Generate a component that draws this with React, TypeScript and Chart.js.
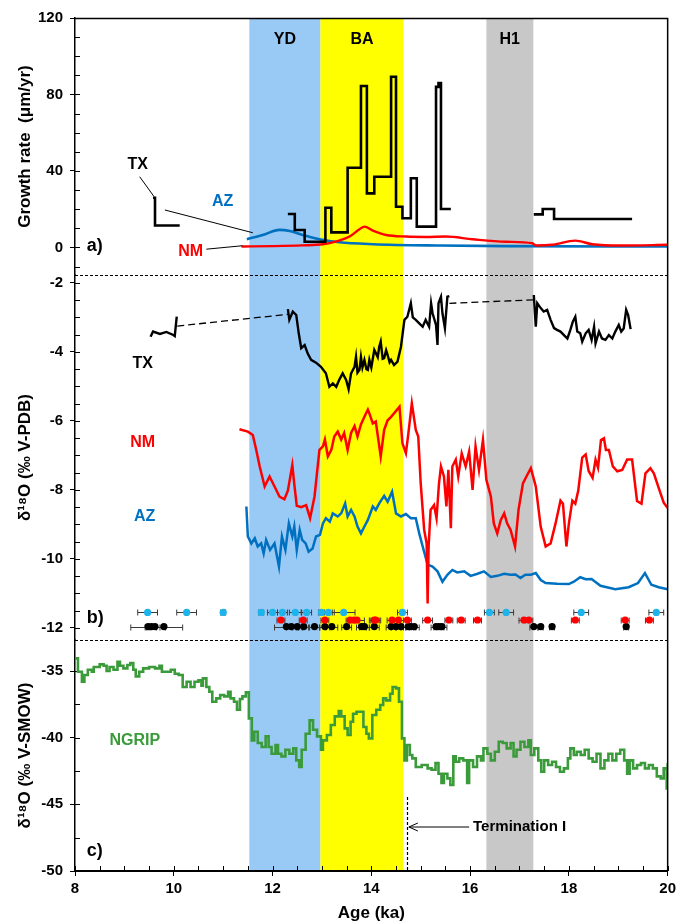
import React, { useEffect, useRef } from "react";
import { Chart, registerables } from "chart.js";
Chart.register(...registerables);

const FONT = "'Liberation Sans', Arial, Helvetica, sans-serif";

// ---------- climate intervals ----------
const bandNames = ["YD", "BA", "H1"];
const bandStart = [11.53, 12.97, 16.33];
const bandEnd = [12.97, 14.65, 17.28];
const bandColors = ["#99c9f5", "#ffff00", "#c8c8c8"];

// ---------- panel a: growth rate (um/yr) ----------
const txGrowthAge = [9.58, 9.62, 10.12, 11.0, 12.31, 12.45, 12.65, 13.07, 13.19, 13.52, 13.79, 13.91, 14.06, 14.40, 14.50, 14.63, 14.80, 14.92, 15.31, 15.36, 15.41, 15.61, 16.5, 17.29, 17.47, 17.70, 19.28];
const txGrowthRate = [26, 11.5, 11.5, null, 17.5, 9.1, 3.0, 20.8, 7.9, 41.7, 84.4, 28.3, 37.0, 89.3, 21.3, 15.3, 36.2, 10.9, 84.0, 86.0, 20.1, 20.1, null, 17.3, 20.1, 14.9, 14.9];

const azGrowthAge = [11.48, 11.8, 12.14, 12.35, 12.61, 12.95, 13.35, 14.03, 15.37, 16.72, 20.0];
const azGrowthRate = [4.3, 6.5, 9.2, 8.6, 6.5, 4.3, 2.7, 1.7, 1.0, 0.7, 0.5];

const nmGrowthAge = [11.37, 12.0, 12.6, 13.02, 13.35, 13.56, 13.76, 13.86, 14.03, 14.30, 14.70, 15.10, 15.51, 16.05, 16.72, 17.26, 17.33, 17.66, 18.13, 18.47, 19.07, 20.0];
const nmGrowthRate = [0.5, 0.7, 1.1, 1.7, 3.6, 5.7, 9.5, 10.9, 8.8, 6.5, 5.7, 5.5, 5.7, 4.3, 3.0, 2.2, 1.0, 1.4, 3.6, 1.7, 1.0, 1.4];

// ---------- panel b: speleothem d18O (permil V-PDB) ----------
const txO18Age = [9.53, 9.58, 9.72, 9.85, 9.99, 10.02, 10.06, 11.0,
  12.31, 12.34, 12.41, 12.48, 12.53, 12.58, 12.65, 12.71, 12.78, 12.88, 12.98, 13.08, 13.15, 13.22, 13.29, 13.35, 13.42, 13.49, 13.54, 13.59, 13.66, 13.69, 13.72, 13.76, 13.79, 13.82, 13.86, 13.90, 13.93, 13.96, 14.00, 14.06, 14.13, 14.16, 14.19, 14.23, 14.26, 14.30, 14.33, 14.37, 14.40, 14.46, 14.53, 14.60, 14.67, 14.73, 14.80, 14.84, 14.90, 14.97, 15.04, 15.10, 15.17, 15.21, 15.24, 15.31, 15.34, 15.36, 15.41, 15.44, 15.49, 15.54, 15.58, 16.5,
  17.29, 17.33, 17.36, 17.43, 17.49, 17.56, 17.63, 17.70, 17.76, 17.83, 17.90, 17.97, 18.03, 18.08, 18.13, 18.17, 18.23, 18.27, 18.34, 18.40, 18.46, 18.51, 18.54, 18.61, 18.67, 18.74, 18.81, 18.88, 18.94, 19.01, 19.06, 19.11, 19.16, 19.20, 19.25];
const txO18 = [-3.56, -3.41, -3.48, -3.42, -3.51, -3.54, -2.98, null,
  -2.76, -3.07, -2.83, -2.93, -3.46, -3.89, -3.80, -4.04, -4.23, -4.31, -4.43, -4.62, -5.01, -4.91, -5.01, -4.81, -4.62, -4.81, -5.08, -4.62, -4.43, -4.14, -4.60, -4.52, -4.15, -4.45, -4.23, -4.50, -4.52, -4.23, -4.45, -3.94, -4.15, -3.85, -3.70, -4.20, -4.18, -3.95, -4.09, -4.30, -4.23, -4.38, -4.28, -3.85, -3.07, -2.98, -2.59, -3.00, -3.07, -3.17, -3.27, -3.07, -3.27, -2.59, -2.88, -3.22, -3.80, -2.59, -2.40, -2.88, -3.31, -2.40, -2.38, null,
  -2.35, -3.27, -2.59, -2.73, -2.83, -2.78, -3.07, -3.31, -3.36, -3.41, -3.51, -3.61, -3.36, -3.12, -2.98, -3.41, -3.46, -3.70, -3.46, -3.36, -3.65, -3.27, -3.75, -3.41, -3.61, -3.65, -3.51, -3.61, -3.41, -3.22, -3.41, -3.32, -2.78, -2.93, -3.34];
const txLinkAge = [10.07, 12.31, 14.0, 15.58, 17.29];
const txLinkO18 = [-3.25, -2.91, null, -2.59, -2.49];

const nmO18Age = [11.33, 11.50, 11.60, 11.67, 11.74, 11.84, 11.94, 12.04, 12.14, 12.24, 12.31, 12.40, 12.44, 12.49, 12.58, 12.68, 12.76, 12.85, 12.92, 12.95, 13.02, 13.06, 13.12, 13.19, 13.25, 13.32, 13.39, 13.45, 13.52, 13.59, 13.66, 13.72, 13.79, 13.86, 13.93, 13.96, 14.03, 14.09, 14.19, 14.26, 14.33, 14.40, 14.46, 14.57, 14.63, 14.70, 14.75, 14.82, 14.90, 14.95, 15.00, 15.07, 15.12, 15.14, 15.16, 15.20, 15.27, 15.32, 15.37, 15.41, 15.47, 15.52, 15.56, 15.61, 15.64, 15.71, 15.76, 15.83, 15.91, 15.98, 16.05, 16.11, 16.18, 16.26, 16.33, 16.42, 16.48, 16.55, 16.62, 16.69, 16.75, 16.82, 16.91, 16.98, 17.07, 17.14, 17.23, 17.33, 17.43, 17.53, 17.63, 17.73, 17.83, 17.88, 17.95, 18.00, 18.07, 18.13, 18.19, 18.27, 18.34, 18.40, 18.48, 18.54, 18.59, 18.65, 18.71, 18.75, 18.81, 18.89, 18.98, 19.08, 19.18, 19.28, 19.38, 19.47, 19.55, 19.65, 19.72, 19.82, 19.92, 20.0];
const nmO18 = [-6.24, -6.31, -6.41, -6.84, -7.32, -7.90, -7.61, -7.90, -8.19, -8.27, -8.02, -7.28, -7.83, -8.46, -8.50, -8.44, -8.82, -8.19, -7.23, -6.84, -6.74, -6.54, -7.03, -6.84, -6.45, -6.31, -6.54, -6.35, -6.84, -6.35, -6.15, -6.45, -6.10, -5.88, -5.67, -5.78, -6.07, -6.02, -7.03, -6.26, -5.98, -5.88, -5.78, -5.59, -6.65, -6.94, -6.36, -5.49, -6.26, -6.45, -7.81, -9.16, -9.55, -11.29, -9.64, -8.58, -8.44, -8.82, -7.81, -7.32, -7.61, -8.48, -7.42, -9.11, -7.32, -7.12, -7.61, -6.94, -7.32, -6.89, -8.00, -6.74, -7.42, -6.55, -7.71, -8.19, -8.97, -9.26, -8.88, -8.68, -8.97, -9.16, -9.64, -8.58, -7.81, -7.61, -7.37, -7.90, -9.07, -9.64, -9.55, -8.97, -8.31, -8.40, -9.64, -8.97, -8.31, -8.40, -8.02, -7.06, -6.97, -7.45, -7.65, -7.12, -7.35, -6.55, -6.50, -6.84, -6.84, -7.32, -7.46, -7.42, -7.12, -7.12, -8.32, -8.40, -7.52, -7.37, -7.52, -7.95, -8.37, -8.52];

const azO18Age = [11.47, 11.50, 11.57, 11.64, 11.70, 11.77, 11.82, 11.87, 11.95, 12.04, 12.13, 12.19, 12.26, 12.33, 12.40, 12.44, 12.49, 12.55, 12.60, 12.67, 12.73, 12.81, 12.88, 12.96, 13.02, 13.08, 13.16, 13.22, 13.32, 13.39, 13.47, 13.52, 13.59, 13.66, 13.72, 13.79, 13.86, 13.93, 14.03, 14.09, 14.16, 14.26, 14.33, 14.42, 14.50, 14.60, 14.70, 14.80, 14.90, 14.97, 15.04, 15.14, 15.24, 15.34, 15.44, 15.54, 15.64, 15.74, 15.88, 16.01, 16.15, 16.28, 16.42, 16.55, 16.69, 16.82, 16.92, 17.02, 17.12, 17.23, 17.33, 17.43, 17.53, 17.76, 18.00, 18.10, 18.23, 18.34, 18.46, 18.64, 18.94, 19.21, 19.40, 19.54, 19.67, 19.82, 20.0];
const azO18 = [-8.48, -9.35, -9.55, -9.40, -9.64, -9.55, -9.84, -9.45, -9.74, -9.55, -10.22, -9.35, -9.74, -8.97, -9.35, -9.06, -9.74, -9.16, -9.45, -9.55, -9.79, -9.70, -9.35, -9.30, -8.97, -8.82, -8.92, -8.68, -8.77, -8.68, -8.39, -8.77, -8.58, -8.77, -9.06, -9.26, -9.06, -8.87, -8.48, -8.58, -8.39, -8.17, -8.34, -8.05, -8.68, -8.77, -8.70, -8.82, -8.82, -9.26, -9.64, -10.17, -10.22, -10.36, -10.66, -10.46, -10.32, -10.39, -10.36, -10.49, -10.43, -10.36, -10.52, -10.49, -10.43, -10.46, -10.45, -10.55, -10.46, -10.46, -10.41, -10.61, -10.70, -10.72, -10.73, -10.66, -10.53, -10.59, -10.58, -10.78, -10.88, -10.82, -10.70, -10.41, -10.75, -10.82, -10.88];

// ---------- panel b: U-Th dates (ka, 2 sigma) ----------
const azDateAge = [9.47, 10.26, 11.0, 11.77, 12.0, 12.2, 12.46, 12.69, 12.99, 13.13, 13.44, 14.63, 16.39, 16.73, 18.25, 19.77];
const azDateErr = [0.2, 0.2, 0.05, 0.05, 0.1, 0.1, 0.12, 0.1, 0.06, 0.12, 0.23, 0.1, 0.1, 0.15, 0.15, 0.15];
const nmDateAge = [12.17, 12.62, 13.06, 13.57, 13.65, 13.71, 14.06, 14.09, 14.42, 14.55, 14.73, 15.14, 15.57, 15.82, 16.15, 17.09, 17.19, 18.13, 19.14, 19.63];
const nmDateErr = [0.08, 0.08, 0.08, 0.08, 0.08, 0.15, 0.1, 0.1, 0.1, 0.15, 0.08, 0.1, 0.08, 0.08, 0.08, 0.1, 0.08, 0.08, 0.08, 0.08];
const txDateAge = [9.48, 9.55, 9.62, 9.8, 12.28, 12.38, 12.5, 12.63, 12.85, 13.06, 13.2, 13.5, 13.8, 13.86, 14.06, 14.4, 14.5, 14.6, 14.75, 14.8, 14.87, 15.31, 15.37, 15.43, 17.29, 17.43, 17.66, 19.16];
const txDateErr = [0.35, 0.1, 0.1, 0.38, 0.24, 0.1, 0.1, 0.1, 0.1, 0.1, 0.12, 0.1, 0.1, 0.1, 0.1, 0.1, 0.1, 0.1, 0.1, 0.1, 0.1, 0.1, 0.1, 0.1, 0.08, 0.05, 0.05, 0.05];
const dateRowLevel = [-11.55, -11.77, -11.96]; // AZ, NM, TX rows

// ---------- panel c: NGRIP d18O (permil V-SMOW) ----------
const ngripAge = [8.00, 8.06, 8.14, 8.19, 8.26, 8.34, 8.38, 8.50, 8.58, 8.64, 8.70, 8.78, 8.86, 8.91, 8.98, 9.06, 9.12, 9.18, 9.23, 9.30, 9.38, 9.50, 9.62, 9.71, 9.76, 9.86, 9.94, 10.02, 10.10, 10.18, 10.26, 10.34, 10.42, 10.50, 10.56, 10.59, 10.66, 10.72, 10.78, 10.86, 10.94, 11.02, 11.10, 11.15, 11.22, 11.28, 11.34, 11.39, 11.46, 11.52, 11.58, 11.63, 11.70, 11.78, 11.86, 11.92, 11.98, 12.06, 12.11, 12.18, 12.26, 12.34, 12.42, 12.48, 12.54, 12.59, 12.67, 12.75, 12.82, 12.90, 12.98, 13.02, 13.10, 13.18, 13.26, 13.34, 13.39, 13.46, 13.52, 13.58, 13.63, 13.70, 13.78, 13.84, 13.90, 13.95, 14.02, 14.10, 14.18, 14.24, 14.30, 14.38, 14.43, 14.50, 14.56, 14.62, 14.67, 14.72, 14.78, 14.83, 14.90, 15.02, 15.14, 15.22, 15.30, 15.36, 15.42, 15.47, 15.54, 15.60, 15.66, 15.71, 15.78, 15.86, 15.94, 15.98, 16.06, 16.14, 16.22, 16.27, 16.35, 16.42, 16.50, 16.58, 16.66, 16.74, 16.82, 16.88, 16.94, 17.02, 17.10, 17.18, 17.23, 17.30, 17.38, 17.44, 17.50, 17.58, 17.66, 17.74, 17.82, 17.90, 17.98, 18.03, 18.10, 18.16, 18.24, 18.32, 18.40, 18.48, 18.56, 18.64, 18.72, 18.80, 18.88, 18.96, 19.04, 19.12, 19.18, 19.23, 19.30, 19.38, 19.46, 19.54, 19.62, 19.70, 19.78, 19.86, 19.92, 19.98, 20.00];
const ngripO18 = [-34.05, -35.05, -35.8, -35.3, -34.9, -35.05, -34.7, -34.5, -34.6, -35.0, -34.7, -34.9, -34.3, -34.6, -34.8, -34.55, -34.4, -34.9, -35.4, -35.05, -34.8, -34.7, -34.8, -34.6, -35.05, -35.05, -34.9, -35.2, -35.3, -36.2, -35.8, -36.2, -35.8, -35.7, -36.1, -35.55, -36.2, -36.55, -37.3, -37.05, -36.8, -36.9, -36.55, -37.05, -37.3, -37.9, -37.1, -36.9, -36.6, -38.55, -40.2, -39.55, -40.4, -40.7, -39.9, -40.7, -41.2, -40.55, -41.2, -41.4, -40.9, -41.2, -40.8, -41.7, -42.2, -40.9, -39.7, -38.7, -39.4, -39.9, -40.9, -40.2, -39.8, -39.05, -38.4, -38.0, -38.4, -39.3, -39.8, -38.8, -38.2, -38.05, -38.05, -39.2, -39.7, -40.05, -38.3, -37.9, -37.55, -37.05, -37.2, -36.7, -36.2, -36.3, -37.3, -40.05, -41.7, -40.55, -41.3, -41.55, -42.2, -42.05, -42.3, -42.4, -41.9, -42.7, -43.4, -42.7, -43.05, -43.55, -41.4, -41.8, -41.55, -41.7, -43.4, -41.7, -42.2, -41.4, -41.7, -40.8, -41.2, -41.7, -41.05, -40.3, -40.4, -40.8, -40.4, -41.4, -40.9, -40.3, -40.7, -40.2, -41.3, -40.8, -41.7, -42.55, -41.7, -42.05, -41.8, -42.2, -42.55, -42.3, -41.55, -40.8, -41.3, -41.05, -41.3, -40.9, -41.55, -41.8, -41.2, -42.3, -41.7, -41.2, -41.7, -41.2, -40.9, -41.7, -42.7, -41.7, -42.3, -42.05, -41.9, -42.3, -42.05, -42.3, -42.9, -43.05, -42.3, -43.8, -41.9];

// ---------- axis ranges / ticks ----------
const xTickLabels = [8, 10, 12, 14, 16, 18, 20];
const growthTickLabels = [0, 40, 80, 120];
const pdbTickLabels = [-2, -4, -6, -8, -10, -12];
const smowTickLabels = [-35, -40, -45, -50];

const BLACK = "#000000";
const BLUE = "#0070c0";
const RED = "#ff0000";
const GREEN = "#3b9b3b";
const CYAN = "#1db4ec";

type Note = { axis: string; x: number; y: number; text: string; color: string; size: number; align?: CanvasTextAlign };
const notes: Note[] = [
  { axis: "ya", x: 12.25, y: 108.5, text: "YD", color: BLACK, size: 16 },
  { axis: "ya", x: 13.81, y: 108.5, text: "BA", color: BLACK, size: 16 },
  { axis: "ya", x: 16.80, y: 108.5, text: "H1", color: BLACK, size: 16 },
  { axis: "ya", x: 9.27, y: 43.1, text: "TX", color: BLACK, size: 16 },
  { axis: "ya", x: 10.99, y: 23.9, text: "AZ", color: BLUE, size: 16 },
  { axis: "ya", x: 10.34, y: -2.2, text: "NM", color: RED, size: 16 },
  { axis: "ya", x: 8.24, y: 0.8, text: "a)", color: BLACK, size: 18, align: "left" },
  { axis: "yb", x: 9.37, y: -4.35, text: "TX", color: BLACK, size: 16 },
  { axis: "yb", x: 9.37, y: -6.64, text: "NM", color: RED, size: 16 },
  { axis: "yb", x: 9.41, y: -8.78, text: "AZ", color: BLUE, size: 16 },
  { axis: "yb", x: 8.24, y: -11.7, text: "b)", color: BLACK, size: 18, align: "left" },
  { axis: "yc", x: 9.21, y: -40.25, text: "NGRIP", color: GREEN, size: 16 },
  { axis: "yc", x: 16.06, y: -46.7, text: "Termination I", color: BLACK, size: 15, align: "left" },
  { axis: "yc", x: 8.24, y: -48.5, text: "c)", color: BLACK, size: 18, align: "left" },
];
// leader lines: [axis, x1, y1, x2, y2]
const leaders: [string, number, number, number, number][] = [
  ["ya", 9.31, 37.0, 9.60, 26.6],
  ["ya", 9.82, 19.6, 11.60, 7.7],
  ["ya", 10.66, -0.9, 11.39, 0.9],
];
const terminationAge = 14.73;
const terminationTop = -44.45;
const arrowFrom = 15.98;
const arrowTo = 14.76;
const arrowLevel = -46.7;

const pts = (xs: number[], ys: (number | null)[]) => xs.map((x, i) => ({ x, y: ys[i] }));
const isLabel = (v: number, list: number[]) => list.some((t) => Math.abs(t - v) < 1e-6);

const decor = {
  id: "decor",
  beforeDraw(chart: any) {
    const { ctx, chartArea: ca, scales } = chart;
    const x = scales.x;
    ctx.save();
    for (let i = 0; i < bandNames.length; i++) {
      const x0 = x.getPixelForValue(bandStart[i]);
      const x1 = x.getPixelForValue(bandEnd[i]);
      ctx.fillStyle = bandColors[i];
      ctx.fillRect(x0, ca.top, x1 - x0, ca.bottom - ca.top - 1);
    }
    ctx.restore();
  },
  beforeDatasetsDraw(chart: any) {
    const { ctx, chartArea: ca, scales } = chart;
    const x = scales.x;
    ctx.save();
    // inward tick marks (Excel style: minor inside, major crossing)
    ctx.strokeStyle = BLACK;
    ctx.lineWidth = 1;
    for (const id of ["ya", "yb", "yc"]) {
      const s = scales[id];
      for (const t of s.ticks) {
        const py = Math.round(s.getPixelForValue(t.value)) + 0.5;
        if (py < ca.top + 2 || py > ca.bottom - 2) continue;
        ctx.beginPath();
        ctx.moveTo(ca.left, py);
        ctx.lineTo(ca.left + 5, py);
        ctx.stroke();
      }
    }
    for (const t of x.ticks) {
      const px = Math.round(x.getPixelForValue(t.value)) + 0.5;
      ctx.beginPath();
      ctx.moveTo(px, ca.bottom);
      ctx.lineTo(px, ca.bottom - 5);
      ctx.stroke();
    }
    // panel separators
    ctx.setLineDash([3, 2]);
    for (const id of ["yb", "yc"]) {
      const y = Math.round(scales[id].top) + 0.5;
      ctx.beginPath();
      ctx.moveTo(ca.left, y);
      ctx.lineTo(ca.right, y);
      ctx.stroke();
    }
    ctx.setLineDash([]);
    // error bars
    const yb = scales.yb;
    const groups: [number[], number[], number][] = [
      [azDateAge, azDateErr, dateRowLevel[0]],
      [nmDateAge, nmDateErr, dateRowLevel[1]],
      [txDateAge, txDateErr, dateRowLevel[2]],
    ];
    ctx.strokeStyle = "#3a3a3a";
    for (const [ages, errs, lvl] of groups) {
      const py = Math.round(yb.getPixelForValue(lvl)) + 0.5;
      ages.forEach((a, i) => {
        const xa = x.getPixelForValue(a - errs[i]);
        const xb = x.getPixelForValue(a + errs[i]);
        ctx.beginPath();
        ctx.moveTo(xa, py);
        ctx.lineTo(xb, py);
        ctx.moveTo(xa, py - 3);
        ctx.lineTo(xa, py + 3);
        ctx.moveTo(xb, py - 3);
        ctx.lineTo(xb, py + 3);
        ctx.stroke();
      });
    }
    ctx.restore();
  },
  afterDatasetsDraw(chart: any) {
    const { ctx, scales } = chart;
    const x = scales.x;
    ctx.save();
    // leaders
    ctx.strokeStyle = BLACK;
    ctx.lineWidth = 1;
    for (const [id, x1, y1, x2, y2] of leaders) {
      const s = scales[id];
      ctx.beginPath();
      ctx.moveTo(x.getPixelForValue(x1), s.getPixelForValue(y1));
      ctx.lineTo(x.getPixelForValue(x2), s.getPixelForValue(y2));
      ctx.stroke();
    }
    // termination
    const yc = scales.yc;
    ctx.setLineDash([3, 2]);
    ctx.lineWidth = 1.2;
    const tx = Math.round(x.getPixelForValue(terminationAge)) + 0.5;
    ctx.beginPath();
    ctx.moveTo(tx, yc.getPixelForValue(terminationTop));
    ctx.lineTo(tx, yc.getPixelForValue(-50));
    ctx.stroke();
    ctx.setLineDash([]);
    ctx.lineWidth = 1;
    const ay = yc.getPixelForValue(arrowLevel);
    const a0 = x.getPixelForValue(arrowFrom);
    const a1 = x.getPixelForValue(arrowTo);
    ctx.beginPath();
    ctx.moveTo(a0, ay);
    ctx.lineTo(a1, ay);
    ctx.moveTo(a1 + 9, ay - 4);
    ctx.lineTo(a1, ay);
    ctx.lineTo(a1 + 9, ay + 4);
    ctx.stroke();
    // texts
    ctx.textBaseline = "middle";
    for (const n of notes) {
      const s = scales[n.axis];
      ctx.font = `bold ${n.size}px ${FONT}`;
      ctx.fillStyle = n.color;
      ctx.textAlign = n.align || "center";
      ctx.fillText(n.text, x.getPixelForValue(n.x), s.getPixelForValue(n.y));
    }
    ctx.restore();
  },
  afterDraw(chart: any) {
    const { ctx, chartArea: ca } = chart;
    ctx.save();
    ctx.strokeStyle = BLACK;
    ctx.lineWidth = 1.5;
    ctx.beginPath();
    ctx.moveTo(ca.left, ca.top + 0.5);
    ctx.lineTo(ca.right, ca.top + 0.5);
    ctx.lineTo(ca.right, ca.bottom);
    ctx.stroke();
    ctx.restore();
  },
};

function yAxis(min: number, max: number, step: number, labels: number[], weight: number, title: string) {
  return {
    type: "linear",
    position: "left",
    stack: "panels",
    stackWeight: weight,
    min,
    max,
    ticks: {
      stepSize: step,
      includeBounds: false,
      autoSkip: false,
      color: BLACK,
      padding: 7,
      font: { family: FONT, size: 15, weight: "bold" },
      callback: (v: number) => (isLabel(v, labels) ? String(v) : ""),
    },
    grid: {
      drawOnChartArea: false,
      drawTicks: true,
      tickLength: 5,
      tickWidth: 1,
      tickColor: (c: any) => (c.tick && isLabel(c.tick.value, labels) ? BLACK : "rgba(0,0,0,0)"),
    },
    border: { display: true, color: BLACK, width: 1.5 },
    title: {
      display: true,
      text: title,
      color: BLACK,
      font: { family: FONT, size: 17, weight: "bold" },
      padding: { top: 15, bottom: 0 },
    },
    afterFit: (s: any) => {
      s.width = 75;
    },
  };
}

export default function App() {
  const ref = useRef<HTMLCanvasElement | null>(null);
  useEffect(() => {
    document.body.style.margin = "0";
    const line = (data: any, axis: string, color: string, width: number, extra: any = {}) => ({
      type: "line",
      data,
      yAxisID: axis,
      borderColor: color,
      backgroundColor: color,
      borderWidth: width,
      pointRadius: 0,
      fill: false,
      spanGaps: false,
      ...extra,
    });
    const dots = (ages: number[], lvl: number, color: string) => ({
      type: "line",
      data: ages.map((a) => ({ x: a, y: lvl })),
      yAxisID: "yb",
      showLine: false,
      pointRadius: 3.6,
      pointBorderWidth: 0,
      pointBackgroundColor: color,
      borderColor: color,
    });
    const chart = new Chart(ref.current as HTMLCanvasElement, {
      type: "line",
      data: {
        datasets: [
          line(pts(txGrowthAge, txGrowthRate), "ya", BLACK, 2.6, { stepped: true }),
          line(pts(nmGrowthAge, nmGrowthRate), "ya", RED, 2.4, { cubicInterpolationMode: "monotone" }),
          line(pts(azGrowthAge, azGrowthRate), "ya", BLUE, 2.6, { cubicInterpolationMode: "monotone" }),
          dots(azDateAge, dateRowLevel[0], CYAN),
          dots(nmDateAge, dateRowLevel[1], RED),
          dots(txDateAge, dateRowLevel[2], BLACK),
          line(pts(txO18Age, txO18), "yb", BLACK, 2.4),
          line(pts(txLinkAge, txLinkO18), "yb", BLACK, 1.3, { borderDash: [7, 4] }),
          line(pts(nmO18Age, nmO18), "yb", RED, 2.5),
          line(pts(azO18Age, azO18), "yb", BLUE, 2.5),
          line(pts(ngripAge, ngripO18), "yc", GREEN, 2.6, { stepped: true }),
        ] as any,
      },
      options: {
        responsive: false,
        animation: false,
        devicePixelRatio: 1,
        layout: { padding: { top: 18, right: 11, left: 0, bottom: 0 } },
        plugins: { legend: { display: false }, tooltip: { enabled: false } },
        scales: {
          x: {
            type: "linear",
            position: "bottom",
            min: 8,
            max: 20,
            ticks: {
              stepSize: 0.5,
              autoSkip: false,
              maxRotation: 0,
              includeBounds: false,
              color: BLACK,
              padding: 4,
              font: { family: FONT, size: 15, weight: "bold" },
              callback: (v: number) => (isLabel(v, xTickLabels) ? String(v) : ""),
            },
            grid: {
              drawOnChartArea: false,
              drawTicks: true,
              tickLength: 5,
              tickColor: (c: any) => (c.tick && isLabel(c.tick.value, xTickLabels) ? BLACK : "rgba(0,0,0,0)"),
            },
            border: { display: true, color: BLACK, width: 2 },
            title: {
              display: true,
              text: "Age (ka)",
              color: BLACK,
              font: { family: FONT, size: 17, weight: "bold" },
              padding: { top: 0, bottom: 0 },
            },
            afterFit: (s: any) => {
              s.height = 53;
            },
          },
          yc: yAxis(-50, -32.67, 2.5, smowTickLabels, 231, "δ¹⁸O (‰ V-SMOW)"),
          yb: yAxis(-12.35, -1.77, 0.5, pdbTickLabels, 365, "δ¹⁸O (‰ V-PDB)"),
          ya: yAxis(-14.4, 120, 10, growthTickLabels, 257, "Growth rate  (μm/yr)"),
        } as any,
      },
      plugins: [decor],
    });
    return () => chart.destroy();
  }, []);
  return (
    <div style={{ width: 680, height: 924, background: "#fff" }}>
      <canvas ref={ref} width={680} height={924} style={{ display: "block" }} />
    </div>
  );
}
